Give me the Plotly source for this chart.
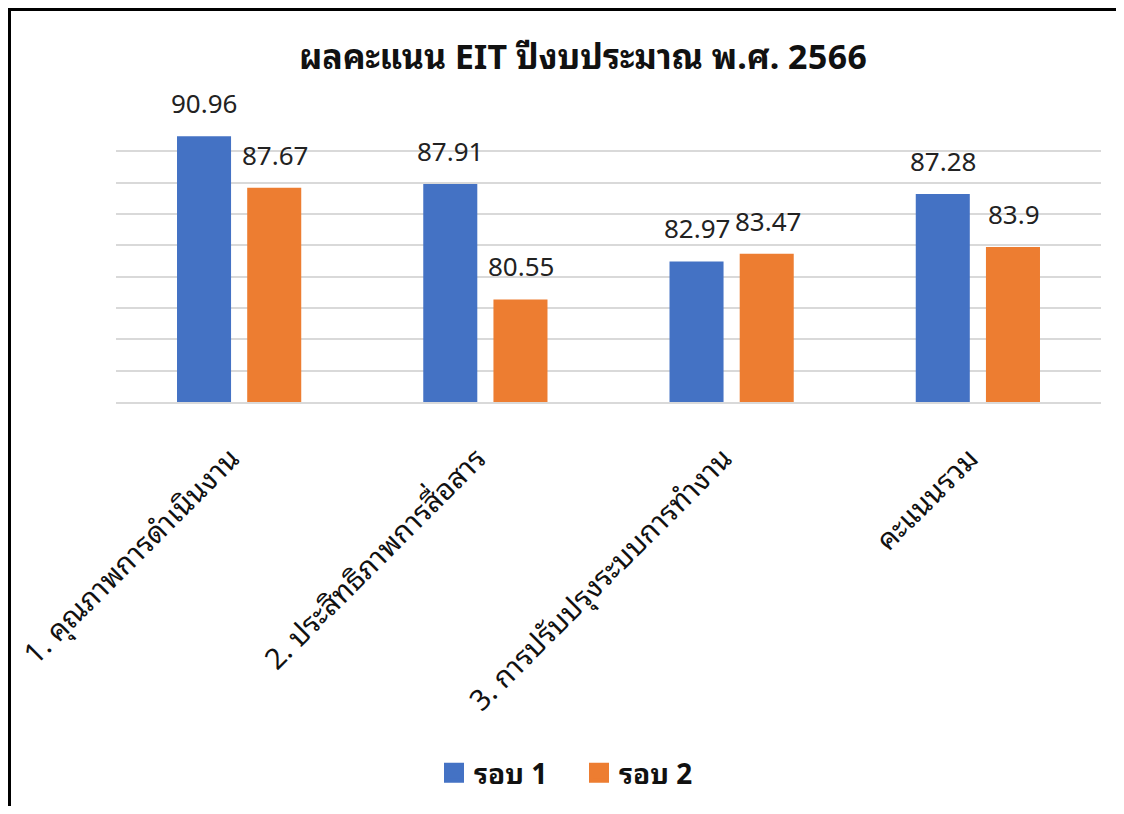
import plotly.graph_objects as go

categories = ["1. คุณภาพการดำเนินงาน", "2. ประสิทธิภาพการสื่อสาร",
              "3. การปรับปรุงระบบการทำงาน", "คะแนนรวม"]
round1 = [90.96, 87.91, 82.97, 87.28]
round2 = [87.67, 80.55, 83.47, 83.9]
series_names = ["รอบ 1", "รอบ 2"]
title_text = "ผลคะแนน EIT ปีงบประมาณ พ.ศ. 2566"

FONT = "Noto Sans Thai Looped, Noto Serif Thai, Noto Sans Thai, Noto Sans, DejaVu Sans, sans-serif"
colors = ["#4472C4", "#ED7D31"]

W, H = 1108, 798
L, R, T, B = 108, 15, 112, 404
PW = W - L - R
PH = H - T - B

fig = go.Figure()
for name, vals, col in zip(series_names, [round1, round2], colors):
    fig.add_trace(go.Bar(x=categories, y=vals, name=name, marker_color=col,
                         marker_line_width=0, showlegend=False))
# legend-only markers (larger squares)
for name, col in zip(series_names, colors):
    fig.add_trace(go.Scatter(x=[None], y=[None], mode="markers", name=name,
                             marker=dict(symbol="square", size=16, color=col,
                                         line=dict(color=col, width=4))))

# data labels
for vals, shift in zip([round1, round2], [-35, 36]):
    for c, v in zip(categories, vals):
        fig.add_annotation(x=c, y=v, text=str(v), showarrow=False,
                           xshift=shift, yanchor="bottom", yshift=12,
                           font=dict(family=FONT, size=26, color="#222222"))

fig.update_layout(
    width=W, height=H,
    margin=dict(l=L, r=R, t=T, b=B, autoexpand=False),
    paper_bgcolor="white", plot_bgcolor="white",
    barmode="group", bargap=0.43, bargroupgap=0.23,
    title=dict(text="<b>" + title_text + "</b>", x=575 / W, xanchor="center",
               y=1 - 49 / H, yanchor="middle",
               font=dict(family=FONT, size=34, color="#111111")),
    showlegend=True,
    legend=dict(orientation="h", x=571 / W, xanchor="center",
                xref="container", yref="container",
                y=1 - 765 / H, yanchor="middle",
                font=dict(family=FONT, size=28, color="#111111", weight="bold"),
                entrywidth=100, entrywidthmode="pixels", traceorder="normal"),
    xaxis=dict(tickangle=-45, showgrid=False, showline=True, automargin=False,
               linecolor="#D9D9D9", linewidth=2, ticks="",
               ticklabelstandoff=26, ticklabelshift=-8,
               tickfont=dict(family=FONT, size=29, color="#111111")),
    yaxis=dict(range=[74, 92], dtick=2, showgrid=True, gridcolor="#D9D9D9",
               gridwidth=2, showticklabels=False, zeroline=False, showline=False,
               automargin=False),
    shapes=[dict(type="rect", xref="paper", yref="paper",
                 x0=(1.5 - L) / PW, x1=(W + 40 - L) / PW,
                 y0=-(H + 40 - (T + PH)) / PH, y1=1 + (T - 1.5) / PH,
                 line=dict(color="black", width=3), fillcolor="rgba(0,0,0,0)",
                 layer="above")],
)

fig.write_html("out.html")
